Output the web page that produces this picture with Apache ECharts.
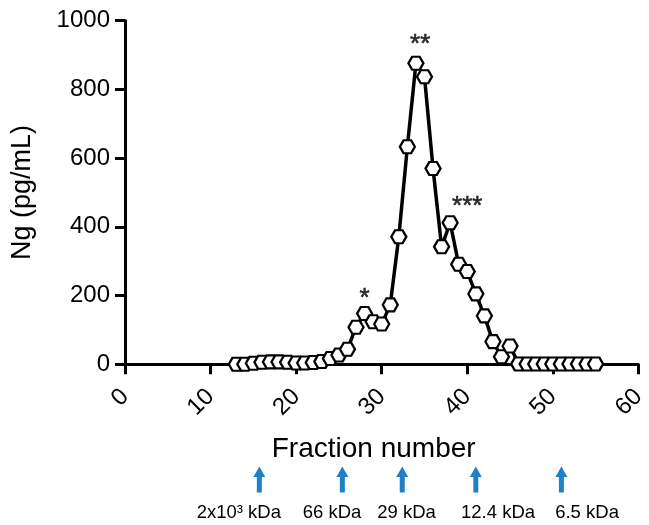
<!DOCTYPE html>
<html><head><meta charset="utf-8">
<script src="https://cdn.jsdelivr.net/npm/echarts@6/dist/echarts.min.js"></script>
<style>html,body{margin:0;padding:0;background:#fff}#c{width:649px;height:525px}</style>
</head><body><div id="c"></div>
<script>
// ---- data ----
const fractions = [13,14,15,16,17,18,19,20,21,22,23,24,25,26,27,28,29,30,31,32,33,34,35,36,37,38,39,40,41,42,43,44,45,46,47,48,49,50,51,52,53,54,55];
const ng = [0,0,3,6,7,7,6,4,4,5,8,17,27,44,108,148,124,117,173,371,633,876,837,570,342,412,291,270,205,141,66,22,53,1,1,1,1,1,1,1,1,1,1];
const xTicks = [0,10,20,30,40,50,60];
const yTicks = [0,200,400,600,800,1000];
const annotFraction = [28,34.5,40];
const annotValue = [210,950,478];
const annotText = ['*','**','***'];
const markerFraction = [15.7,25.4,32.4,41,51];
const markerLabelFraction = [13.3,24.2,32.9,43.6,54.0];
const markerLabels = ['2x10\u00b3 kDa','66 kDa','29 kDa','12.4 kDa','6.5 kDa'];

const FONT = "'Liberation Sans', Arial, sans-serif";
const chart = echarts.init(document.getElementById('c'), null, {renderer:'canvas'});
const hex = 'path://M0 50 L25 3 L75 3 L100 50 L75 97 L25 97 Z';

const option = {
  animation:false,
  backgroundColor:'#fff',
  grid:{left:125,right:6,top:20.7,bottom:160.7},
  xAxis:{
    type:'value', min:xTicks[0], max:xTicks[xTicks.length-1], interval:10,
    axisLine:{show:true,lineStyle:{color:'#000',width:3}},
    axisTick:{show:true,length:10,lineStyle:{color:'#000',width:3}},
    axisLabel:{rotate:45,fontSize:24,color:'#000',fontFamily:FONT,margin:28.5,padding:[8.5,0,0,0]},
    splitLine:{show:false},
    name:'Fraction number', nameLocation:'middle', nameGap:71,
    nameTextStyle:{fontSize:28,color:'#000',fontFamily:FONT,padding:[0,16,0,0]}
  },
  yAxis:{
    type:'value', min:yTicks[0], max:yTicks[yTicks.length-1], interval:200,
    axisLine:{show:true,lineStyle:{color:'#000',width:3}},
    axisTick:{show:true,length:10,lineStyle:{color:'#000',width:3}},
    axisLabel:{fontSize:24,color:'#000',fontFamily:FONT,margin:15,formatter:v=>String(v)},
    splitLine:{show:false},
    name:'Ng (pg/mL)', nameLocation:'middle', nameGap:89,
    nameTextStyle:{fontSize:27,color:'#000',fontFamily:FONT}
  },
  series:[
    {
      type:'line',
      data:fractions.map((f,i)=>[f,ng[i]]),
      symbol:hex, symbolSize:[15,13],
      lineStyle:{color:'#000',width:3.5},
      itemStyle:{color:'#fff',borderColor:'#000',borderWidth:2.2},
      z:3
    },
    {
      type:'scatter',
      data:annotFraction.map((f,i)=>[f,annotValue[i],annotText[i]]),
      symbolSize:0,
      label:{show:true,position:'inside',formatter:p=>p.value[2],fontSize:26,color:'#000',fontFamily:FONT,offset:[0,7],textBorderColor:'#000',textBorderWidth:0.6},
      z:4
    }
  ]
};
chart.setOption(option);

const blue = '#1f80c8';
const graphics = [];
markerFraction.forEach((f)=>{
  const x = chart.convertToPixel({gridIndex:0},[f,0])[0];
  graphics.push({
    type:'polygon',
    shape:{points:[[x,466.5],[x+6,477],[x+2.5,477],[x+2.5,492.5],[x-2.5,492.5],[x-2.5,477],[x-6,477]]},
    style:{fill:blue}
  });
});
markerLabelFraction.forEach((f,i)=>{
  const x = chart.convertToPixel({gridIndex:0},[f,0])[0];
  graphics.push({
    type:'text', x:x, y:513,
    style:{text:markerLabels[i],fontSize:18.5,fontFamily:FONT,fill:'#000',textAlign:'center',textVerticalAlign:'middle'}
  });
});
chart.setOption({graphic:graphics});
</script>
</body></html>
